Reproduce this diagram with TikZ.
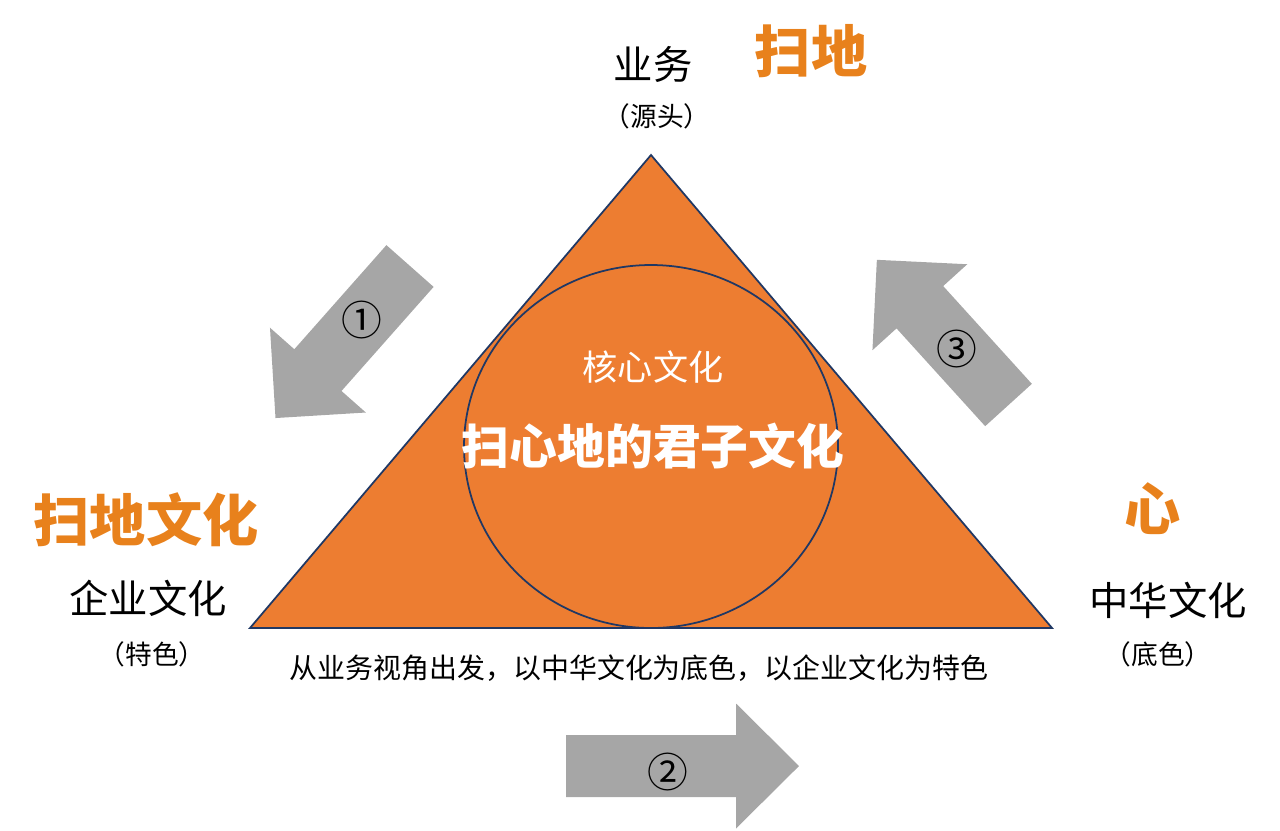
\documentclass[tikz,border=0pt]{standalone}
\usepackage{fontspec}
\setmainfont{Noto Sans CJK SC}
\definecolor{triorange}{HTML}{ED7D31}
\definecolor{wordorange}{HTML}{E8811C}
\definecolor{edgenavy}{HTML}{203864}
\definecolor{arrowgray}{HTML}{A6A6A6}
\tikzset{
  bigword/.style={text=wordorange,font=\fontsize{16}{18}\selectfont\bfseries,inner sep=0pt},
  nameword/.style={font=\fontsize{11.2}{13}\selectfont,inner sep=0pt},
  noteword/.style={font=\fontsize{7.6}{9}\selectfont,inner sep=0pt},
  numword/.style={font=\fontsize{11.6}{13}\selectfont,inner sep=0pt},
}
\begin{document}
\begin{tikzpicture}
  \useasboundingbox (0,0) rectangle (12.8,8.3);
  % 三角形 + 内切圆
  \coordinate (apex) at (6.51,6.75);
  \coordinate (left) at (2.50,2.02);
  \coordinate (right) at (10.52,2.02);
  \fill[triorange] (apex) -- (left) -- (right) -- cycle;
  \draw[edgenavy,line width=0.5pt] (apex) -- (left) -- (right) -- cycle;
  \draw[edgenavy,line width=0.5pt] (6.51,3.835) ellipse[x radius=1.87,y radius=1.815];
  % 三个灰色箭头
  \fill[arrowgray,shift={(4.10,5.64)},rotate=228.5]
    (0,-0.315) -- (1.39,-0.315) -- (1.39,-0.64) -- (2.03,0) -- (1.39,0.64) -- (1.39,0.315) -- (0,0.315) -- cycle;
  \fill[arrowgray,shift={(5.66,0.64)}]
    (0,-0.31) -- (1.70,-0.31) -- (1.70,-0.625) -- (2.33,0) -- (1.70,0.625) -- (1.70,0.31) -- (0,0.31) -- cycle;
  \fill[arrowgray,shift={(10.085,4.25)},rotate=132.2]
    (0,-0.315) -- (1.32,-0.315) -- (1.32,-0.64) -- (1.96,0) -- (1.32,0.64) -- (1.32,0.315) -- (0,0.315) -- cycle;
  \node[numword] (n1) at (3.62,5.10) {①};
  \node[numword] (n2) at (6.68,0.58) {②};
  \node[numword] (n3) at (9.57,4.81) {③};
  % 顶点：业务
  \node[nameword] (yewu) at (6.53,7.66) {业务};
  \node[noteword] (yuantou) at (6.57,7.14) {（源头）};
  \node[bigword] (saodi) at (8.11,7.79) {扫地};
  % 左下：企业文化
  \node[bigword] (saodiwh) at (1.46,3.10) {扫地文化};
  \node[nameword] (qiye) at (1.48,2.32) {企业文化};
  \node[noteword] (tese) at (1.52,1.76) {（特色）};
  % 右下：中华文化
  \node[bigword] (xin) at (11.53,3.21) {心};
  \node[nameword] (zhonghua) at (11.68,2.30) {中华文化};
  \node[noteword] (dise) at (11.58,1.76) {（底色）};
  % 底边说明
  \node[noteword,font=\fontsize{7.95}{9}\selectfont] (shuoming) at (6.39,1.62) {从业务视角出发，以中华文化为底色，以企业文化为特色};
  % 圆内文字
  \node[text=white,font=\fontsize{10}{12}\selectfont,inner sep=0pt] (hexin) at (6.53,4.63) {核心文化};
  \node[text=white,font=\fontsize{13.6}{16}\selectfont\bfseries,inner sep=0pt] (junzi) at (6.53,3.84) {扫心地的君子文化};
\end{tikzpicture}
\end{document}
